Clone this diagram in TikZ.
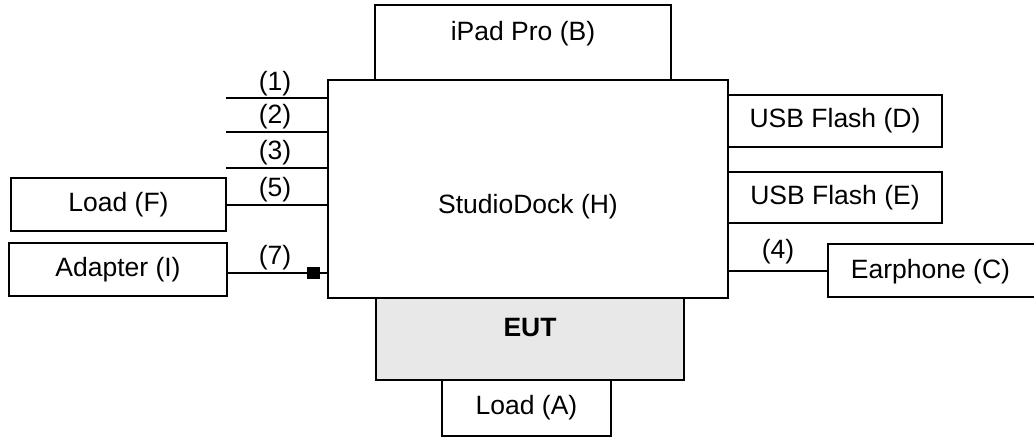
\documentclass[tikz,border=0pt]{standalone}
\usepackage{fontspec}
\setmainfont{Liberation Sans}
\definecolor{eutgray}{RGB}{232,232,232}
\begin{document}
\begin{tikzpicture}[x=1pt,y=-1pt,
  lbl/.style={font=\fontsize{26.5}{31}\selectfont},
  box/.style={draw=black,line width=2.2pt,rectangle,inner sep=0pt,lbl},
  txt/.style={lbl,inner sep=0pt},
  wire/.style={line width=2.2pt}]
\useasboundingbox (0,0) rectangle (1034,437);
% boxes
\node[box,minimum width=296,minimum height=75] (ipad) at (523,42.5) {};
\node[box,minimum width=400,minimum height=218] (dock) at (528,189) {};
\node[box,fill=eutgray,minimum width=308,minimum height=82] (eut) at (530,339) {};
\node[box,minimum width=169,minimum height=56] (loada) at (526.5,408) {Load (A)};
\node[box,minimum width=214,minimum height=52] (usbd) at (835,121) {USB Flash (D)};
\node[box,minimum width=214,minimum height=51] (usbe) at (835,197.5) {USB Flash (E)};
\node[box,minimum width=210,minimum height=53] (earph) at (933,270.5) {};
\node[txt] (tearph) at (930.5,272) {Earphone (C)};
\node[box,minimum width=215,minimum height=53] (loadf) at (118.5,204.5) {Load (F)};
\node[box,minimum width=218,minimum height=53] (adapt) at (118,269.5) {Adapter (I)};
% box texts offset from centre
\node[txt] (tipad) at (523,34) {iPad Pro (B)};
\node[txt] (tdock) at (528,207) {StudioDock (H)};
\node[txt,font=\fontsize{26.5}{31}\selectfont\bfseries] (teut) at (530,328) {EUT};
% connector free ends
\coordinate (c1) at (226,98);
\coordinate (c2) at (226,132);
\coordinate (c3) at (226,168);
% square on adapter line
\node[fill=black,minimum width=13,minimum height=12,inner sep=0pt] (sq) at (313.5,273) {};
% connectors
\draw[wire] (c1) -- (c1 -| dock.west);
\draw[wire] (c2) -- (c2 -| dock.west);
\draw[wire] (c3) -- (c3 -| dock.west);
\draw[wire] (loadf.east |- 0,205) -- (dock.west |- 0,205);
\draw[wire] (adapt.east |- sq.west) -- (sq.west);
\draw[wire] (sq.east) -- (dock.west |- sq.east);
\draw[wire] (dock.east |- 0,271) -- (earph.west |- 0,271);
% line labels
\node[txt] (l1) at (275,84) {(1)};
\node[txt] (l2) at (275,117) {(2)};
\node[txt] (l3) at (275,153) {(3)};
\node[txt] (l5) at (275,190) {(5)};
\node[txt] (l7) at (275,258) {(7)};
\node[txt] (l4) at (778,252) {(4)};
\end{tikzpicture}
\end{document}
